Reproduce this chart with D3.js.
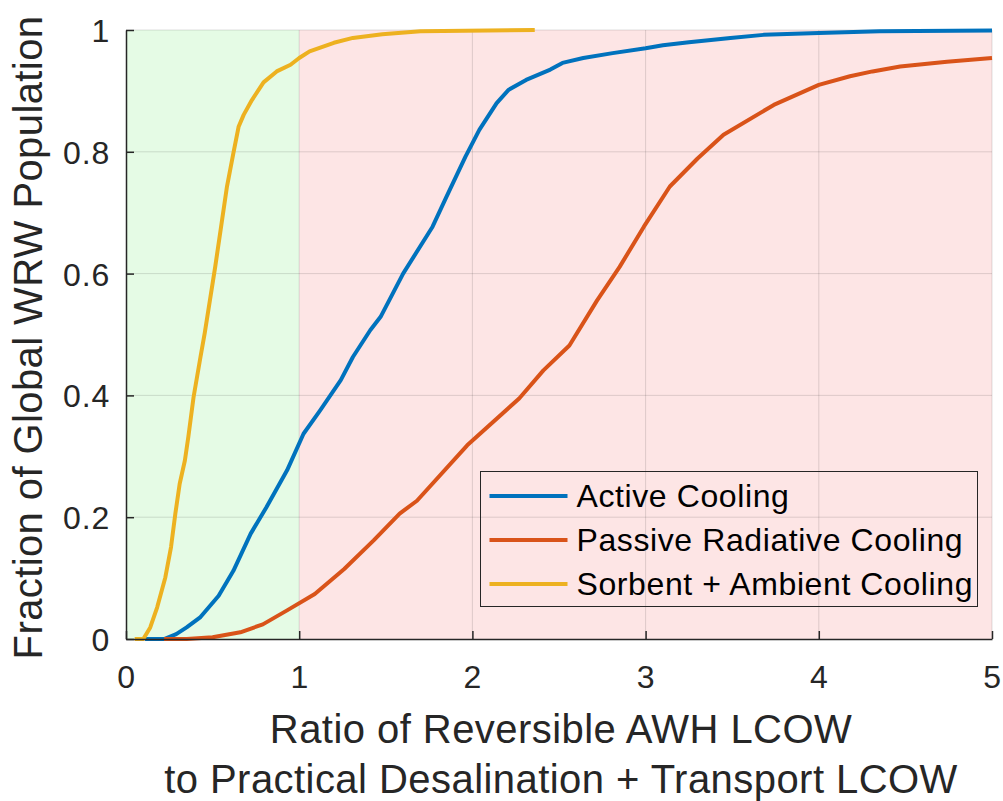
<!DOCTYPE html>
<html>
<head>
<meta charset="utf-8">
<script src="https://cdn.jsdelivr.net/npm/d3@7"></script>
<style>
  body { margin: 0; background: #fff; }
  svg { display: block; font-family: "Liberation Sans", Arial, sans-serif; }
</style>
</head>
<body>
<div id="chart"></div>
<script>
const margin = { LEFT: 126, RIGHT: 11, TOP: 30, BOTTOM: 162 };
const width = 1003 - margin.LEFT - margin.RIGHT;
const height = 801 - margin.TOP - margin.BOTTOM;

// series names and colors
const seriesNames = ["Active Cooling", "Passive Radiative Cooling", "Sorbent + Ambient Cooling"];
const seriesColors = ["#0072BD", "#D95319", "#EDB120"];

// Active Cooling: [ratio, fraction]
const activeCooling = [
  [0.11, 0], [0.22, 0], [0.29, 0.008], [0.35, 0.019], [0.43, 0.036], [0.535, 0.071],
  [0.62, 0.112], [0.72, 0.173], [0.81, 0.216], [0.93, 0.277], [1.025, 0.337],
  [1.12, 0.375], [1.24, 0.425], [1.31, 0.463], [1.41, 0.507], [1.47, 0.529],
  [1.6, 0.6], [1.77, 0.677], [1.85, 0.726], [1.96, 0.792], [2.04, 0.836],
  [2.14, 0.88], [2.21, 0.902], [2.31, 0.918], [2.45, 0.935], [2.52, 0.946],
  [2.64, 0.954], [2.81, 0.962], [3.0, 0.97], [3.1, 0.975], [3.25, 0.98],
  [3.49, 0.987], [3.68, 0.992], [4.0, 0.995], [4.35, 0.998], [5.0, 0.999]
];

// Passive Radiative Cooling
const passiveCooling = [
  [0.22, 0], [0.35, 0], [0.5, 0.003], [0.66, 0.011], [0.79, 0.024], [0.93, 0.047],
  [1.09, 0.074], [1.26, 0.115], [1.43, 0.162], [1.58, 0.206], [1.68, 0.227],
  [1.97, 0.318], [2.27, 0.395], [2.41, 0.441], [2.56, 0.482], [2.72, 0.556],
  [2.85, 0.611], [2.99, 0.677], [3.14, 0.743], [3.3, 0.789], [3.45, 0.828],
  [3.74, 0.877], [4.0, 0.91], [4.18, 0.924], [4.31, 0.932], [4.47, 0.94],
  [4.74, 0.948], [5.0, 0.954]
];

// Sorbent + Ambient Cooling
const sorbentCooling = [
  [0.05, 0], [0.1, 0], [0.14, 0.019], [0.18, 0.052], [0.227, 0.101], [0.26, 0.151],
  [0.285, 0.206], [0.31, 0.255], [0.34, 0.293], [0.36, 0.332], [0.39, 0.397],
  [0.43, 0.463], [0.455, 0.503], [0.515, 0.611], [0.583, 0.743], [0.62, 0.798],
  [0.65, 0.841], [0.68, 0.861], [0.727, 0.885], [0.794, 0.914], [0.87, 0.932],
  [0.95, 0.943], [1.0, 0.954], [1.06, 0.965], [1.2, 0.979], [1.31, 0.987],
  [1.48, 0.993], [1.7, 0.998], [2.36, 1.0]
];

const xTicks = [0, 1, 2, 3, 4, 5];
const yTicks = [0, 0.2, 0.4, 0.6, 0.8, 1];
const yTickLabels = ["0", "0.2", "0.4", "0.6", "0.8", "1"];
// shaded regions: [from, to, color]
const regions = [[0, 1, "#e5fbe5"], [1, 5, "#fde5e5"]];

const svg = d3.select("#chart").append("svg")
  .attr("width", 1003)
  .attr("height", 801);

const g = svg.append("g")
  .attr("transform", `translate(${margin.LEFT}, ${margin.TOP})`);

// Scales
const x = d3.scaleLinear().domain([0, 5]).range([0, width]);
const y = d3.scaleLinear().domain([0, 1]).range([height, 0]);

// Background regions
g.selectAll("rect.region")
  .data(regions)
  .enter().append("rect")
  .attr("class", "region")
  .attr("x", d => x(d[0]))
  .attr("width", d => x(d[1]) - x(d[0]))
  .attr("y", 0)
  .attr("height", height)
  .attr("fill", d => d[2]);

// Grid
g.selectAll("line.vgrid")
  .data(xTicks.slice(1))
  .enter().append("line")
  .attr("x1", d => x(d)).attr("x2", d => x(d))
  .attr("y1", 0).attr("y2", height)
  .attr("stroke", "#262626").attr("stroke-opacity", 0.15).attr("stroke-width", 1);

g.selectAll("line.hgrid")
  .data(yTicks.slice(1))
  .enter().append("line")
  .attr("x1", 0).attr("x2", width)
  .attr("y1", d => y(d)).attr("y2", d => y(d))
  .attr("stroke", "#262626").attr("stroke-opacity", 0.15).attr("stroke-width", 1);

// Lines
const line = d3.line().x(d => x(d[0])).y(d => y(d[1]));
const allSeries = [activeCooling, passiveCooling, sorbentCooling];

g.selectAll("path.series")
  .data(allSeries)
  .enter().append("path")
  .attr("class", "series")
  .attr("d", line)
  .attr("fill", "none")
  .attr("stroke", (d, i) => seriesColors[i])
  .attr("stroke-width", 4)
  .attr("stroke-linejoin", "round");

// Axes
const xAxis = d3.axisBottom(x).tickValues(xTicks).tickSizeInner(-8).tickSizeOuter(0).tickPadding(26)
  .tickFormat(d3.format("d"));
const yAxis = d3.axisLeft(y).tickValues(yTicks).tickSizeInner(-8).tickSizeOuter(0).tickPadding(16)
  .tickFormat((d, i) => yTickLabels[i]);

const gx = g.append("g")
  .attr("transform", `translate(0, ${height})`)
  .call(xAxis);
const gy = g.append("g").call(yAxis);

[gx, gy].forEach(a => {
  a.select(".domain").attr("stroke", "#262626").attr("stroke-width", 1.5);
  a.selectAll(".tick line").attr("stroke", "#262626").attr("stroke-width", 1.5);
  a.selectAll(".tick text")
    .attr("font-size", "32px")
    .attr("font-family", "Liberation Sans, Arial, sans-serif")
    .attr("letter-spacing", "0.8px")
    .attr("fill", "#262626");
});
gy.selectAll(".tick text").attr("dy", "0.36em");

// Axis labels
g.append("text")
  .attr("transform", "rotate(-90)")
  .attr("x", -height / 2 - 3)
  .attr("y", -84)
  .attr("text-anchor", "middle")
  .attr("font-size", "40px")
  .attr("letter-spacing", "0.4px")
  .attr("fill", "#262626")
  .text("Fraction of Global WRW Population");

g.append("text")
  .attr("x", width / 2 + 2)
  .attr("y", height + 104)
  .attr("text-anchor", "middle")
  .attr("font-size", "40px")
  .attr("letter-spacing", "0.45px")
  .attr("fill", "#262626")
  .text("Ratio of Reversible AWH LCOW");

g.append("text")
  .attr("x", width / 2 + 2)
  .attr("y", height + 154)
  .attr("text-anchor", "middle")
  .attr("font-size", "40px")
  .attr("letter-spacing", "0.45px")
  .attr("fill", "#262626")
  .text("to Practical Desalination + Transport LCOW");

// Legend
const legend = g.append("g")
  .attr("transform", `translate(${480.5 - margin.LEFT}, ${471.5 - margin.TOP})`);

legend.append("rect")
  .attr("width", 497)
  .attr("height", 135)
  .attr("fill", "none")
  .attr("stroke", "#262626")
  .attr("stroke-width", 1);

seriesNames.forEach((name, i) => {
  const row = legend.append("g")
    .attr("transform", `translate(0, ${24.5 + i * 44})`);
  row.append("line")
    .attr("x1", 9).attr("x2", 87)
    .attr("stroke", seriesColors[i])
    .attr("stroke-width", 4);
  row.append("text")
    .attr("x", 96)
    .attr("y", 11)
    .attr("font-size", "32px")
    .attr("letter-spacing", "0.6px")
    .attr("fill", "#000")
    .text(name);
});
</script>
</body>
</html>
